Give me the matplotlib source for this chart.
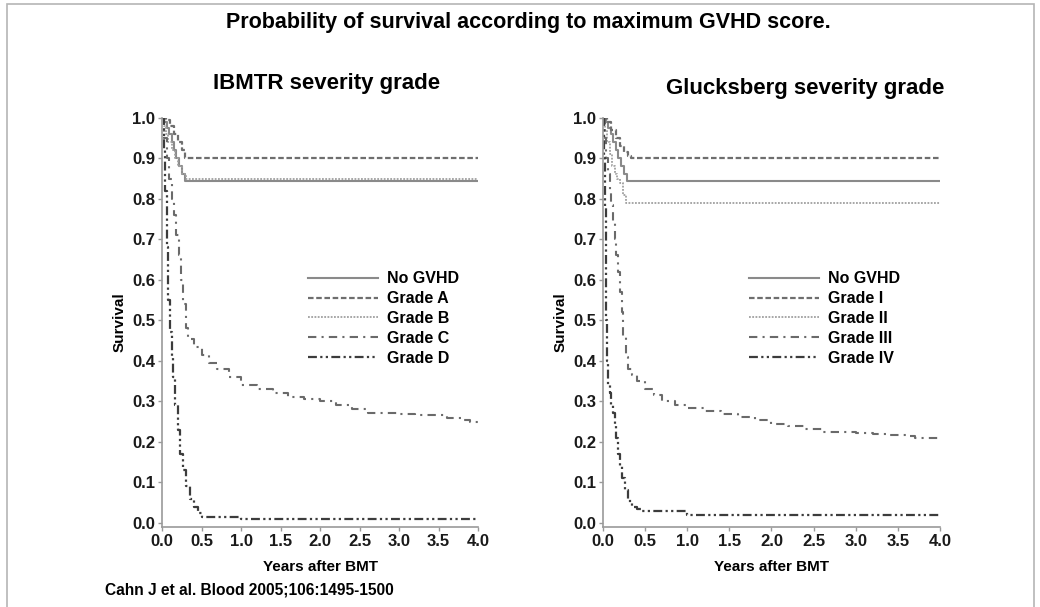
import matplotlib
matplotlib.use("Agg")
import matplotlib.pyplot as plt
from matplotlib.patches import Rectangle

plt.rcParams['font.family'] = ['Liberation Sans', 'DejaVu Sans']
plt.rcParams['font.weight'] = 'bold'

# years after BMT / survival
t_nogvhd = [0, 0.03, 0.06, 0.09, 0.12, 0.15, 0.18, 0.21, 0.25, 0.29, 4.0]
s_nogvhd = [1.0, 0.99, 0.975, 0.96, 0.94, 0.92, 0.90, 0.88, 0.86, 0.845, 0.845]

# IBMTR
t_a = [0, 0.05, 0.10, 0.15, 0.20, 0.25, 0.29, 4.0]
s_a = [1.0, 0.995, 0.98, 0.96, 0.94, 0.92, 0.90, 0.90]
t_b = [0, 0.02, 0.05, 0.08, 0.12, 0.16, 0.20, 0.25, 0.30, 4.0]
s_b = [1.0, 0.98, 0.96, 0.94, 0.92, 0.90, 0.88, 0.86, 0.85, 0.85]
t_c = [0, 0.03, 0.06, 0.09, 0.12, 0.15, 0.18, 0.21, 0.24, 0.27, 0.30, 0.33, 0.4, 0.5,
       0.6, 0.7, 0.85, 1.0, 1.2, 1.4, 1.6, 1.8, 2.0, 2.2, 2.4, 2.6, 2.8, 3.0, 3.2,
       3.4, 3.6, 3.8, 3.9, 4.0]
s_c = [1.0, 0.95, 0.90, 0.85, 0.80, 0.76, 0.71, 0.66, 0.60, 0.54, 0.48, 0.455, 0.435,
       0.415, 0.395, 0.38, 0.36, 0.34, 0.33, 0.32, 0.31, 0.305, 0.30, 0.29, 0.28, 0.27,
       0.27, 0.268, 0.267, 0.265, 0.26, 0.255, 0.25, 0.25]
t_d = [0, 0.02, 0.04, 0.06, 0.08, 0.10, 0.12, 0.14, 0.17, 0.20, 0.23, 0.26, 0.30, 0.35,
       0.40, 0.45, 0.5, 0.9, 1.0, 4.0]
s_d = [1.0, 0.92, 0.82, 0.68, 0.55, 0.47, 0.41, 0.36, 0.29, 0.23, 0.17, 0.13, 0.09, 0.06,
       0.04, 0.025, 0.015, 0.015, 0.01, 0.01]

# Glucksberg
t_g1 = [0, 0.05, 0.10, 0.15, 0.20, 0.25, 0.30, 0.33, 4.0]
s_g1 = [1.0, 0.99, 0.97, 0.95, 0.93, 0.915, 0.905, 0.90, 0.90]
t_g2 = [0, 0.02, 0.05, 0.08, 0.11, 0.14, 0.17, 0.20, 0.24, 0.27, 4.0]
s_g2 = [1.0, 0.97, 0.94, 0.91, 0.88, 0.86, 0.85, 0.84, 0.81, 0.79, 0.79]
t_g3 = [0, 0.02, 0.04, 0.06, 0.08, 0.10, 0.12, 0.14, 0.16, 0.18, 0.20, 0.22, 0.24, 0.27,
        0.30, 0.35, 0.4, 0.5, 0.6, 0.7, 0.85, 1.0, 1.2, 1.4, 1.6, 1.8, 2.0, 2.2, 2.4,
        2.6, 2.8, 3.0, 3.2, 3.4, 3.6, 3.7, 4.0]
s_g3 = [1.0, 0.95, 0.90, 0.86, 0.82, 0.785, 0.74, 0.70, 0.66, 0.62, 0.57, 0.52, 0.46,
        0.41, 0.38, 0.365, 0.35, 0.33, 0.315, 0.30, 0.29, 0.283, 0.275, 0.268, 0.262,
        0.255, 0.245, 0.24, 0.232, 0.225, 0.223, 0.222, 0.22, 0.218, 0.215, 0.21, 0.21]
t_g4 = [0, 0.01, 0.02, 0.03, 0.04, 0.05, 0.06, 0.08, 0.10, 0.12, 0.14, 0.16, 0.18, 0.20,
        0.23, 0.26, 0.30, 0.34, 0.40, 0.45, 1.0, 4.0]
s_g4 = [1.0, 0.90, 0.78, 0.64, 0.50, 0.40, 0.34, 0.32, 0.29, 0.27, 0.24, 0.21, 0.17, 0.14,
        0.11, 0.08, 0.055, 0.04, 0.035, 0.03, 0.02, 0.02]

labels_ibmtr = ["No GVHD", "Grade A", "Grade B", "Grade C", "Grade D"]
labels_gluck = ["No GVHD", "Grade I", "Grade II", "Grade III", "Grade IV"]
ticks = [0.0, 0.1, 0.2, 0.3, 0.4, 0.5, 0.6, 0.7, 0.8, 0.9, 1.0]
xticks = [0.0, 0.5, 1.0, 1.5, 2.0, 2.5, 3.0, 3.5, 4.0]

styles = [
    dict(color='#8a8a8a', lw=1.5, ls='-'),
    dict(color='#6e6e6e', lw=1.6, ls=(0, (2.5, 1.2))),
    dict(color='#a0a0a0', lw=1.3, ls=(0, (1, 0.8))),
    dict(color='#6a6a6a', lw=1.5, ls=(0, (4, 2.5, 1, 2.5))),
    dict(color='#3c3c3c', lw=1.6, ls=(0, (4, 1.5, 1, 1.5, 1, 1.5))),
]

fig = plt.figure(figsize=(10.4, 6.07), dpi=100)
fig.patches.append(Rectangle((0.007, -0.01), 0.987, 1.003, transform=fig.transFigure,
                             fill=False, edgecolor='#b5b5b5', lw=1.2))

fig.text(0.508, 0.963, "Probability of survival according to maximum GVHD score.",
         ha='center', va='center', fontsize=15.5, fontweight='bold')
fig.text(0.101, 0.028, "Cahn J et al. Blood 2005;106:1495-1500",
         ha='left', va='center', fontsize=11.2, fontweight='bold')


def panel(rect, title, title_x, title_y, series, labels, leg_x):
    ax = fig.add_axes(rect)
    for (t, s), lab, st in zip(series, labels, styles):
        ax.plot(t, s, drawstyle='steps-post', label=lab, **st)
    ax.set_xlim(0, 4.0)
    ax.set_ylim(-0.01, 1.0)
    ax.set_xticks(xticks)
    ax.set_yticks(ticks)
    ax.set_xticklabels([f"{v:.1f}" for v in xticks])
    ax.set_yticklabels([f"{v:.1f}" for v in ticks])
    for sp in ['top', 'right']:
        ax.spines[sp].set_visible(False)
    for sp in ['left', 'bottom']:
        ax.spines[sp].set_color('#9a9a9a')
        ax.spines[sp].set_linewidth(1.2)
    ax.tick_params(axis='both', colors='#9a9a9a', labelcolor='#1a1a1a',
                   labelsize=12, length=3, width=1, pad=2)
    for lbl in ax.get_xticklabels() + ax.get_yticklabels():
        lbl.set_fontweight('bold')
    ax.set_xlabel("Years after BMT", fontsize=11, fontweight='bold', labelpad=8)
    ax.set_ylabel("Survival", fontsize=11, fontweight='bold', labelpad=4)
    leg = ax.legend(loc='upper left', bbox_to_anchor=(leg_x, 0.64), frameon=False,
                    fontsize=11.5, handlelength=4.4, handletextpad=0.55,
                    labelspacing=0.3, borderaxespad=0)
    for txt in leg.get_texts():
        txt.set_fontweight('bold')
    fig.text(title_x, title_y, title, ha='center', va='center', fontsize=16,
             fontweight='bold')
    return ax


panel([0.1558, 0.132, 0.304, 0.674], "IBMTR severity grade", 0.314, 0.862,
      [(t_nogvhd, s_nogvhd), (t_a, s_a), (t_b, s_b), (t_c, s_c), (t_d, s_d)],
      labels_ibmtr, 0.44)
panel([0.5798, 0.132, 0.324, 0.674], "Glucksberg severity grade", 0.774, 0.855,
      [(t_nogvhd, s_nogvhd), (t_g1, s_g1), (t_g2, s_g2), (t_g3, s_g3), (t_g4, s_g4)],
      labels_gluck, 0.415)

fig.savefig("out.png", dpi=100)
